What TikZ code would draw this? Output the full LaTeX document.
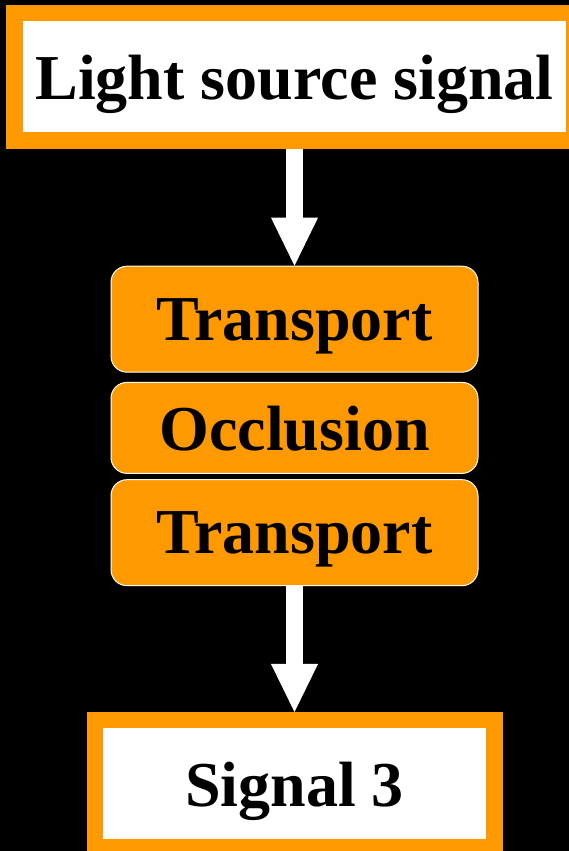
\documentclass[tikz,border=0pt]{standalone}
\usepackage{fontspec}
\setmainfont{Liberation Serif}
\usepackage{tikz}
\usetikzlibrary{arrows.meta,shapes}
\usetikzlibrary{positioning}
\definecolor{boxorange}{RGB}{255,153,0}
\tikzstyle{signalbox} = [draw=boxorange, fill=white, line width=16.5pt,
    inner sep=0pt, minimum height=127.5pt, text depth=0pt]
\tikzstyle{stagebox} = [draw=white, fill=boxorange, line width=1pt,
    rounded corners=16pt, inner sep=0pt, minimum width=367pt, text depth=0pt]
\tikzstyle{bigarrow} = [white, line width=17pt,
    -{Triangle[width=47pt,length=48pt,line width=0pt]}]

\begin{document}
\begin{tikzpicture}[x=1pt, y=1pt, font=\bfseries\fontsize{64}{70}\selectfont]
  \path[use as bounding box, fill=black] (0,0) rectangle (569,851);
  % Place nodes
  \node [signalbox, minimum width=560pt] (light) at (294.5,774) {Light source signal};
  \node [stagebox, minimum height=106pt, below of=light, node distance=242.2pt] (trans1) {Transport};
  \node [stagebox, minimum height=91pt, below of=trans1, node distance=108.7pt] (occl) {Occlusion};
  \node [stagebox, minimum height=106pt, below of=occl, node distance=104.8pt] (trans2) {Transport};
  \node [signalbox, minimum width=399.5pt, below of=trans2, node distance=251.3pt] (sig3) {Signal 3};
  % Arrows
  \draw [bigarrow] (light.south) -- (trans1.north);
  \draw [bigarrow] (trans2.south) -- (sig3.north);
\end{tikzpicture}
\end{document}
